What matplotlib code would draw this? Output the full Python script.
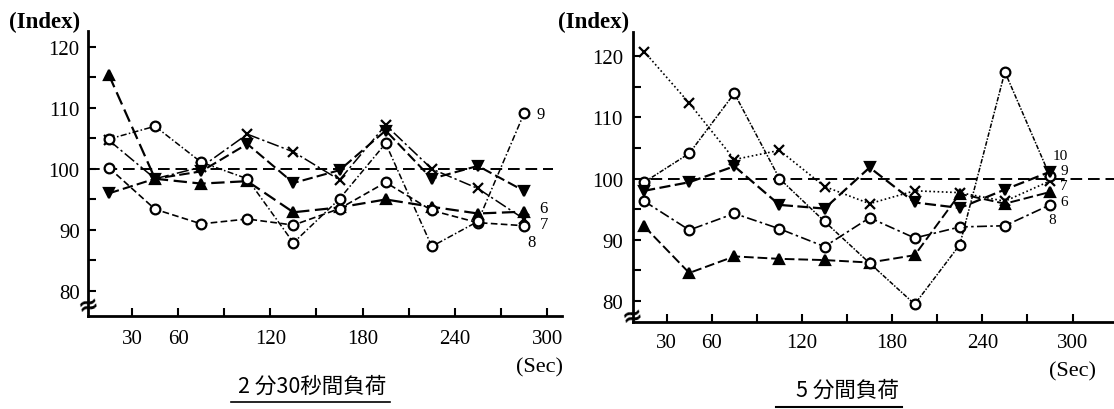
import matplotlib
matplotlib.use("Agg")
import matplotlib.pyplot as plt
from matplotlib.lines import Line2D
from matplotlib.transforms import blended_transform_factory

# time points (sec)
SECONDS = [15, 45, 75, 105, 135, 165, 195, 225, 255, 285]

# 2分30秒間負荷
LEFT_S6 = [115.4, 98.4, 97.6, 98.0, 92.9, 93.7, 95.0, 93.8, 92.7, 93.0]
LEFT_S7 = [104.7, 98.4, 100.3, 105.7, 102.8, 98.2, 107.2, 100.0, 96.8, 91.8]
LEFT_S8 = [100.2, 93.4, 91.0, 91.8, 90.8, 93.5, 97.8, 93.2, 91.2, 90.7]
LEFT_S9 = [104.9, 107.0, 101.1, 98.4, 87.9, 95.1, 104.2, 87.3, 91.4, 109.1]
LEFT_S10 = [96.0, 98.4, 99.6, 104.1, 97.7, 99.8, 106.3, 98.4, 100.5, 96.4]

# 5分間負荷
RIGHT_S6 = [92.2, 84.6, 87.3, 86.9, 86.7, 86.3, 87.5, 97.5, 95.9, 97.8]
RIGHT_S7 = [120.7, 112.3, 103.1, 104.6, 98.7, 95.9, 98.0, 97.7, 96.3, 99.6]
RIGHT_S8 = [96.3, 91.6, 94.3, 91.8, 88.9, 93.6, 90.3, 92.1, 92.3, 95.7]
RIGHT_S9 = [99.4, 104.1, 113.9, 100.0, 93.0, 86.2, 79.5, 89.2, 117.4, 100.4]
RIGHT_S10 = [98.0, 99.4, 102.0, 95.7, 95.1, 101.8, 96.1, 95.2, 98.2, 101.1]

XTICK_LABELED = [30, 60, 120, 180, 240, 300]
XTICK_MINOR = [90, 150, 210, 270]

# subject number tags at line ends
LEFT_TAGS = ["9", "6", "7", "8"]
LEFT_TAG_X = [293, 295, 295, 287]
LEFT_TAG_Y = [109.0, 93.6, 90.9, 88.0]
RIGHT_TAGS = ["10", "9", "7", "6", "8"]
RIGHT_TAG_X = [287, 292, 292, 292, 284]
RIGHT_TAG_Y = [103.8, 101.3, 98.8, 96.3, 93.3]

SERIF = "Liberation Serif"
CJK = ["Noto Sans CJK JP", "DejaVu Sans"]

STYLE_LEFT = {
    "6": dict(marker="^", ls=(0, (6, 2.5)), lw=1.6, mfc="black"),
    "7": dict(marker="x", ls=(0, (8, 2, 1.5, 2)), lw=1.1, mfc="black"),
    "8": dict(marker="o", ls=(0, (4, 2)), lw=1.2, mfc="white"),
    "9": dict(marker="o", ls=(0, (4, 1.5, 1, 1.5)), lw=1.1, mfc="white"),
    "10": dict(marker="v", ls=(0, (5, 2)), lw=1.5, mfc="black"),
}
STYLE_RIGHT = {
    "6": dict(marker="^", ls=(0, (5, 2)), lw=1.4, mfc="black"),
    "7": dict(marker="x", ls=(0, (1, 1.5)), lw=1.2, mfc="black"),
    "8": dict(marker="o", ls=(0, (6, 2, 1.5, 2)), lw=1.2, mfc="white"),
    "9": dict(marker="o", ls=(0, (3, 1, 1, 1)), lw=1.1, mfc="white"),
    "10": dict(marker="v", ls=(0, (5, 2)), lw=1.6, mfc="black"),
}


def draw_panel(ax, series, styles, xlim, ylim, tags, tag_x, tag_y, ref_xmax,
               xpad, ypad, tag_size):
    ax.axhline(100, xmin=0, xmax=ref_xmax, color="black", lw=1.4,
               ls=(0, (6, 3)), zorder=1)
    for name, vals in series.items():
        st = styles[name]
        ms = 7 if st["marker"] == "o" else 6.5
        ax.plot(SECONDS, vals, color="black", ls=st["ls"], lw=st["lw"],
                marker=st["marker"], ms=ms, mfc=st["mfc"], mec="black",
                mew=1.6, zorder=3, clip_on=False)
    for t, x, y in zip(tags, tag_x, tag_y):
        ax.text(x, y, t, fontsize=tag_size, family=SERIF, ha="left", va="center")

    ax.set_xlim(*xlim)
    ax.set_ylim(*ylim)
    for side in ("top", "right"):
        ax.spines[side].set_visible(False)
    for side in ("left", "bottom"):
        ax.spines[side].set_linewidth(2)

    ax.set_xticks(XTICK_LABELED)
    ax.set_xticklabels([str(v) for v in XTICK_LABELED])
    ax.set_xticks(XTICK_MINOR, minor=True)
    ax.set_yticks([80, 90, 100, 110, 120])
    ax.set_yticks([85, 95, 105, 115], minor=True)
    ax.tick_params(axis="both", which="both", direction="in", length=6,
                   width=1.5, labelsize=15)
    ax.tick_params(axis="x", which="both", pad=xpad)
    ax.tick_params(axis="y", which="both", pad=ypad)
    for lab in ax.get_xticklabels() + ax.get_yticklabels():
        lab.set_family(SERIF)

    # axis break mark
    trans = blended_transform_factory(ax.transAxes, ax.transData)
    ax.text(0, 77.6, "≈", transform=trans, fontsize=18, fontweight="bold",
            ha="center", va="center", rotation=15, family="DejaVu Sans")


fig = plt.figure(figsize=(11.14, 4.10), dpi=100)

ax1 = fig.add_axes([0.079, 0.2268, 0.4255, 0.695])
draw_panel(ax1,
           {"6": LEFT_S6, "7": LEFT_S7, "8": LEFT_S8, "9": LEFT_S9, "10": LEFT_S10},
           STYLE_LEFT, (1.4, 309.7), (75.9, 122.6),
           LEFT_TAGS, LEFT_TAG_X, LEFT_TAG_Y, 0.98, 9, 6, 12)

ax2 = fig.add_axes([0.568, 0.2122, 0.432, 0.7073])
draw_panel(ax2,
           {"6": RIGHT_S6, "7": RIGHT_S7, "8": RIGHT_S8, "9": RIGHT_S9, "10": RIGHT_S10},
           STYLE_RIGHT, (7.4, 327.6), (76.6, 123.9),
           RIGHT_TAGS, RIGHT_TAG_X, RIGHT_TAG_Y, 1.0, 8, 7, 11)

# axis captions
fig.text(0.008, 0.946, "(Index)", fontsize=16.5, fontweight="bold", family=SERIF,
         ha="left", va="center")
fig.text(0.501, 0.946, "(Index)", fontsize=16.5, fontweight="bold", family=SERIF,
         ha="left", va="center")
fig.text(0.484, 0.102, "(Sec)", fontsize=16, family=SERIF, ha="center", va="center")
fig.text(0.963, 0.093, "(Sec)", fontsize=16, family=SERIF, ha="center", va="center")

# panel titles, underlined
fig.text(0.280, 0.056, "2 分30秒間負荷", fontsize=15.5, family=CJK,
         ha="center", va="center")
fig.add_artist(Line2D([0.207, 0.350], [0.017, 0.017], color="black", lw=1.2,
                      transform=fig.transFigure))
fig.text(0.761, 0.046, "5 分間負荷", fontsize=15.5, family=CJK,
         ha="center", va="center")
fig.add_artist(Line2D([0.697, 0.810], [0.004, 0.004], color="black", lw=1.5,
                      transform=fig.transFigure))

fig.savefig("out.png", dpi=100)
